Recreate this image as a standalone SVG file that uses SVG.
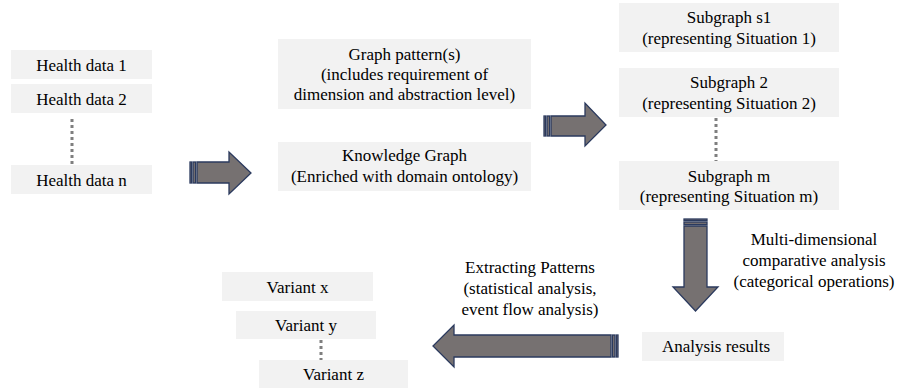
<svg xmlns="http://www.w3.org/2000/svg" width="900" height="389" viewBox="0 0 900 389">
<style>
.box{fill:#f2f2f2}
.t{font-size:17px;fill:#000;text-anchor:middle}
.dot{stroke:#7f7f7f;stroke-width:3;stroke-dasharray:3,3;fill:none}
.arr{fill:#767171;stroke:#2b3a5e;stroke-width:1.3;stroke-linejoin:miter}
</style>
<rect width="900" height="389" fill="#ffffff"/>
<g font-family="Liberation Serif, Times New Roman, serif">
<g id="health1"><rect class="box" x="11" y="50" width="141" height="29"/><text class="t" x="81.5" y="71">Health data 1</text></g>
<g id="health2"><rect class="box" x="11" y="84" width="141" height="29"/><text class="t" x="81.5" y="105">Health data 2</text></g>
<g id="healthn"><rect class="box" x="11" y="165" width="141" height="29"/><text class="t" x="81.5" y="186">Health data n</text></g>
<g id="pattern"><rect class="box" x="278" y="39" width="253" height="70"/>
<text class="t" x="404.5" y="60">Graph pattern(s)</text>
<text class="t" x="404.5" y="80">(includes requirement of</text>
<text class="t" x="404.5" y="100">dimension and abstraction level)</text></g>
<g id="kg"><rect class="box" x="278" y="142" width="253" height="49"/>
<text class="t" x="404.5" y="161">Knowledge Graph</text>
<text class="t" x="404.5" y="182">(Enriched with domain ontology)</text></g>
<g id="sub1"><rect class="box" x="619" y="3" width="220" height="49"/>
<text class="t" x="729" y="23">Subgraph s1</text>
<text class="t" x="729" y="44">(representing Situation 1)</text></g>
<g id="sub2"><rect class="box" x="619" y="68" width="220" height="49"/>
<text class="t" x="729" y="88">Subgraph 2</text>
<text class="t" x="729" y="109">(representing Situation 2)</text></g>
<g id="subm"><rect class="box" x="619" y="161" width="220" height="49"/>
<text class="t" x="729" y="182">Subgraph m</text>
<text class="t" x="729" y="202">(representing Situation m)</text></g>
<g id="results"><rect class="box" x="642" y="332" width="142" height="29"/><text class="t" x="716" y="352">Analysis results</text></g>
<g id="varx"><rect class="box" x="222" y="272" width="151" height="29"/><text class="t" x="297.5" y="293">Variant x</text></g>
<g id="vary"><rect class="box" x="236" y="311" width="140" height="28"/><text class="t" x="306" y="331">Variant y</text></g>
<g id="varz"><rect class="box" x="259" y="360" width="149" height="28"/><text class="t" x="333.5" y="380">Variant z</text></g>
<g id="labels">
<text class="t" x="814" y="245">Multi-dimensional</text>
<text class="t" x="814" y="266">comparative analysis</text>
<text class="t" x="814" y="287">(categorical operations)</text>
<text class="t" x="530" y="273">Extracting Patterns</text>
<text class="t" x="530" y="294">(statistical analysis,</text>
<text class="t" x="530" y="315">event flow analysis)</text>
</g>
</g>
<g id="connectors">
<line class="dot" x1="72" y1="119" x2="72" y2="165"/>
<line class="dot" x1="716" y1="118" x2="716" y2="161"/>
<line class="dot" x1="321" y1="340" x2="321" y2="360"/>
<g id="arrow1">
<rect class="arr" x="190" y="162" width="1.6" height="21"/>
<rect class="arr" x="193" y="162" width="2.6" height="21"/>
<polygon class="arr" points="197,162 229,162 229,152 251,173 229,194 229,183 197,183"/>
</g>
<g id="arrow2">
<rect class="arr" x="544" y="116" width="1.6" height="20"/>
<rect class="arr" x="547" y="116" width="2.6" height="20"/>
<polygon class="arr" points="551,116 585,116 585,103 606,125 585,146 585,136 551,136"/>
</g>
<g id="arrow3">
<rect class="arr" x="684" y="219" width="23" height="1.6"/>
<rect class="arr" x="684" y="222" width="23" height="2.6"/>
<polygon class="arr" points="684,226 707,226 707,287 718,287 695.5,311 673,287 684,287"/>
</g>
<g id="arrow4">
<rect class="arr" x="616.4" y="335" width="1.6" height="22"/>
<rect class="arr" x="612.4" y="335" width="2.6" height="22"/>
<polygon class="arr" points="611,335 454,335 454,325 433,346 454,367 454,357 611,357"/>
</g>
</g>
</svg>
